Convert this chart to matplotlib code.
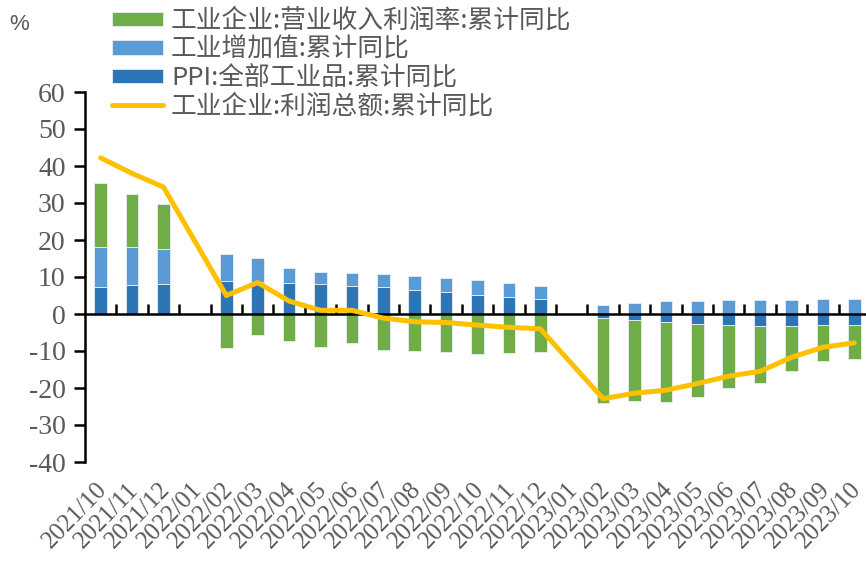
import numpy as np
import matplotlib.pyplot as plt
import matplotlib.transforms as mtransforms

plt.rcParams['font.family'] = ['Liberation Serif', 'Noto Sans CJK SC', 'DejaVu Sans']
plt.rcParams['axes.unicode_minus'] = False

nan = np.nan

# 月份（2022/01 和 2023/01 无数据）
months = ['2021/10', '2021/11', '2021/12', '2022/01', '2022/02', '2022/03', '2022/04',
          '2022/05', '2022/06', '2022/07', '2022/08', '2022/09', '2022/10', '2022/11',
          '2022/12', '2023/01', '2023/02', '2023/03', '2023/04', '2023/05', '2023/06',
          '2023/07', '2023/08', '2023/09', '2023/10']

# PPI:全部工业品:累计同比
ppi = [7.3, 7.9, 8.1, nan, 8.8, 8.7, 8.5, 8.1, 7.7, 7.2, 6.6, 5.9, 5.2, 4.6, 4.1,
       nan, -1.1, -1.6, -2.1, -2.7, -3.1, -3.2, -3.2, -3.1, -3.0]
# 工业增加值:累计同比
iva = [10.9, 10.1, 9.6, nan, 7.5, 6.5, 4.0, 3.3, 3.4, 3.5, 3.6, 3.9, 4.0, 3.8, 3.6,
       nan, 2.4, 3.0, 3.6, 3.6, 3.8, 3.8, 3.9, 4.0, 4.1]
# 工业企业:营业收入利润率:累计同比
margin = [17.1, 14.4, 11.9, nan, -9.3, -5.7, -7.3, -8.8, -7.9, -9.7, -10.0, -10.4, -10.8,
          -10.6, -10.4, nan, -22.9, -22.0, -21.8, -19.6, -17.0, -15.5, -12.1, -9.6, -9.1]
# 工业企业:利润总额:累计同比
profit = [42.2, 38.0, 34.3, nan, 5.0, 8.5, 3.5, 1.0, 1.0, -1.1, -2.1, -2.3, -3.0, -3.6,
          -4.0, nan, -22.9, -21.4, -20.6, -18.8, -16.8, -15.5, -11.7, -9.0, -7.8]

names = ['工业企业:营业收入利润率:累计同比', '工业增加值:累计同比',
         'PPI:全部工业品:累计同比', '工业企业:利润总额:累计同比']

c_margin = '#70AD47'
c_iva = '#5B9BD5'
c_ppi = '#2E75B6'
c_line = '#FFC000'
gray = '#595959'

fig = plt.figure(figsize=(8.66, 5.66), dpi=100)
ax = fig.add_axes([85 / 866, 1 - 462 / 566, 785 / 866, 370 / 566])

x = np.arange(len(months))
pos = np.zeros(len(months))
neg = np.zeros(len(months))
bars = {}
for key, vals, c in [('ppi', ppi, c_ppi), ('iva', iva, c_iva), ('margin', margin, c_margin)]:
    v = np.array(vals, dtype=float)
    ok = ~np.isnan(v)
    v0 = np.nan_to_num(v)
    bottom = np.where(v0 >= 0, pos, neg)
    bars[key] = ax.bar(x[ok], v[ok], 0.4, bottom=bottom[ok], color=c,
                       edgecolor='#e8eef5', linewidth=0.6, zorder=2)
    pos += np.clip(v0, 0, None)
    neg += np.clip(v0, None, 0)

p = np.array(profit, dtype=float)
ok = ~np.isnan(p)
line, = ax.plot(x[ok], p[ok], color=c_line, lw=3.6, zorder=3,
                solid_joinstyle='round', solid_capstyle='round')

# 坐标轴
ax.set_xlim(-0.5, len(months) - 0.5)
ax.set_ylim(-40, 60)
ax.set_yticks(range(-40, 61, 10))
ax.tick_params(axis='y', direction='out', length=8, width=1.8, color='black',
               labelsize=20, labelcolor=gray, pad=6)
ax.spines['left'].set_linewidth(1.8)
ax.spines['bottom'].set_position(('data', 0))
ax.spines['bottom'].set_linewidth(1.8)
ax.spines['top'].set_visible(False)
ax.spines['right'].set_visible(False)
ax.set_xticks(np.arange(0.5, len(months) - 0.5, 1))
ax.tick_params(axis='x', direction='in', length=7, width=1.8, color='black',
               labelbottom=False)

trans = mtransforms.blended_transform_factory(ax.transData, ax.transAxes)
for i, m in enumerate(months):
    ax.text(i - 0.15, -0.045, m, transform=trans, rotation=46, rotation_mode='anchor',
            ha='right', va='top', fontsize=18, color=gray)

fig.text(9 / 866, 1 - 24 / 566, '%', fontsize=16, color=gray,
         family='Liberation Sans', ha='left', va='center')

leg = fig.legend([bars['margin'], bars['iva'], bars['ppi'], line], names,
                 loc='upper left', bbox_to_anchor=(112 / 866, 1 - 8 / 566),
                 frameon=False, prop={'family': ['Noto Sans CJK SC'], 'size': 18.5},
                 handlelength=2.0, handleheight=0.5, handletextpad=0.3,
                 labelspacing=0.1, borderpad=0, borderaxespad=0)
for t in leg.get_texts():
    t.set_color(gray)

fig.savefig('out.png', dpi=100)
